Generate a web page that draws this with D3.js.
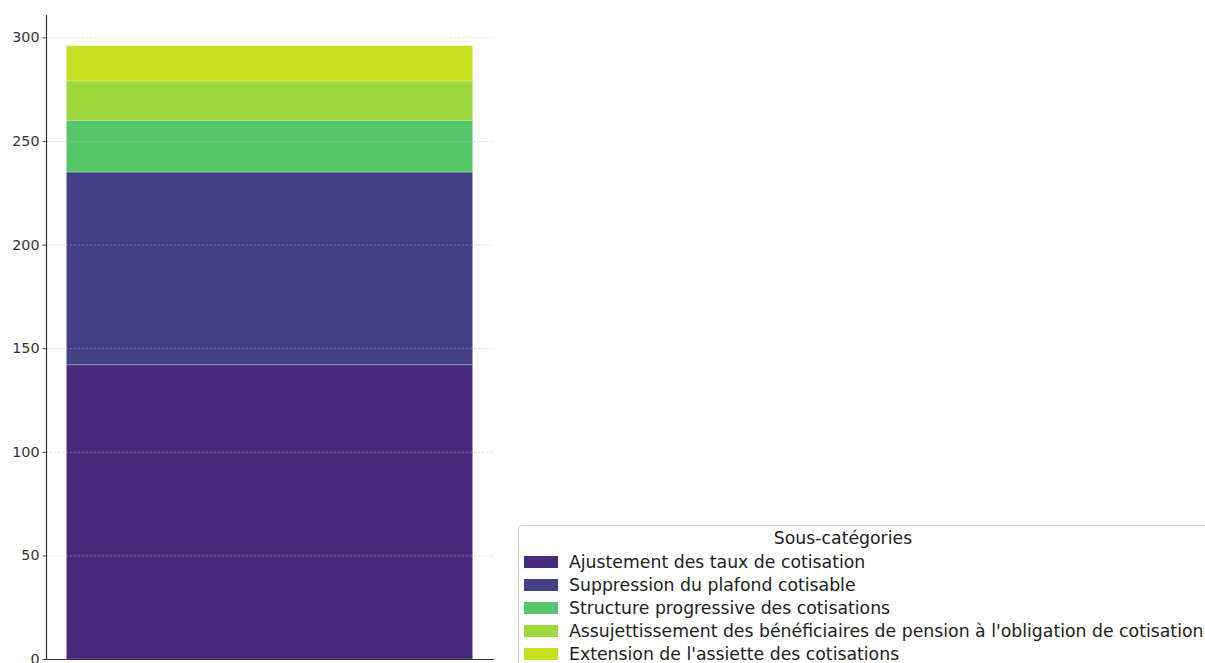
<!DOCTYPE html>
<html>
<head>
<meta charset="utf-8">
<script src="https://cdn.jsdelivr.net/npm/d3@7"></script>
<style>
  html, body { margin: 0; padding: 0; background: #fff; overflow: hidden; }
  svg { display: block; font-family: "DejaVu Sans", sans-serif; }
</style>
</head>
<body>
<svg id="chart" width="1205" height="663"></svg>
<script>
// Stacked contributions, one bar
const category = ["Cotisations"];
const subCategories = [
  "Ajustement des taux de cotisation",
  "Suppression du plafond cotisable",
  "Structure progressive des cotisations",
  "Assujettissement des bénéficiaires de pension à l'obligation de cotisation",
  "Extension de l'assiette des cotisations"
];
const values = [142, 93, 25, 19, 17];
const colors = ["#472a7a", "#423f85", "#57c668", "#9dd93c", "#c6e021"];
const yTicks = [0, 50, 100, 150, 200, 250, 300];
const legendTitle = "Sous-catégories";

const svg = d3.select("#chart");
const plot = { left: 46, right: 494, top: 15, bottom: 659 };

const total = d3.sum(values);
const y = d3.scaleLinear().domain([0, total * 1.05]).range([plot.bottom, plot.top]);
const x = d3.scaleBand().domain(category).range([plot.left, plot.right])
  .paddingInner(0).paddingOuter(0.05);

// stacked segments
const row = { key: category[0] };
subCategories.forEach((s, i) => row[s] = values[i]);
const series = d3.stack().keys(subCategories)([row]);

svg.append("g").selectAll("rect")
  .data(series)
  .join("rect")
  .attr("x", x(category[0]))
  .attr("width", x.bandwidth() - 1)
  .attr("y", d => y(d[0][1]))
  .attr("height", d => y(d[0][0]) - y(d[0][1]))
  .attr("fill", (d, i) => colors[i])
  .attr("stroke", "#ffffff")
  .attr("stroke-opacity", 0.3)
  .attr("stroke-width", 0.8);

// horizontal dashed grid, drawn over the bar
svg.append("g")
  .selectAll("line")
  .data(yTicks)
  .join("line")
  .attr("x1", plot.left)
  .attr("x2", plot.right)
  .attr("y1", d => y(d) + 0.5)
  .attr("y2", d => y(d) + 0.5)
  .attr("stroke", "#bbbbbb")
  .attr("stroke-opacity", 0.6)
  .attr("stroke-width", 0.8)
  .attr("stroke-dasharray", "2.5,1.5");

// y axis
const yAxis = d3.axisLeft(y).tickValues(yTicks).tickSize(3.5).tickPadding(3);
const gy = svg.append("g").attr("transform", `translate(${plot.left},0)`).call(yAxis);
gy.select(".domain").attr("stroke", "#333").attr("stroke-width", 1.2)
  .attr("d", `M0.5,${plot.top}V${plot.bottom}`);
gy.selectAll(".tick line").attr("stroke", "#333").attr("stroke-width", 0.9);
gy.selectAll(".tick text").attr("fill", "#333").attr("font-size", "14.3px")
  .attr("font-family", "DejaVu Sans, sans-serif");

// x axis baseline
svg.append("line")
  .attr("x1", plot.left).attr("x2", plot.right)
  .attr("y1", plot.bottom + 0.5).attr("y2", plot.bottom + 0.5)
  .attr("stroke", "#333").attr("stroke-width", 1.2);

// legend
const lg = svg.append("g").attr("transform", "translate(518,525)");
lg.append("rect")
  .attr("x", 0.5).attr("y", 0.5)
  .attr("width", 740).attr("height", 160)
  .attr("rx", 4)
  .attr("fill", "#fff").attr("fill-opacity", 0.8)
  .attr("stroke", "#cccccc");
lg.append("text")
  .attr("x", 325).attr("y", 19)
  .attr("text-anchor", "middle")
  .attr("font-size", "17.3px").attr("fill", "#222")
  .text(legendTitle);
const items = lg.selectAll("g.item")
  .data(subCategories)
  .join("g")
  .attr("class", "item")
  .attr("transform", (d, i) => `translate(6,${31 + i * 23})`);
items.append("rect")
  .attr("width", 34).attr("height", 12)
  .attr("fill", (d, i) => colors[i]);
items.append("text")
  .attr("x", 45).attr("y", 12)
  .attr("font-size", "17.3px").attr("fill", "#222")
  .text(d => d);
</script>
</body>
</html>
